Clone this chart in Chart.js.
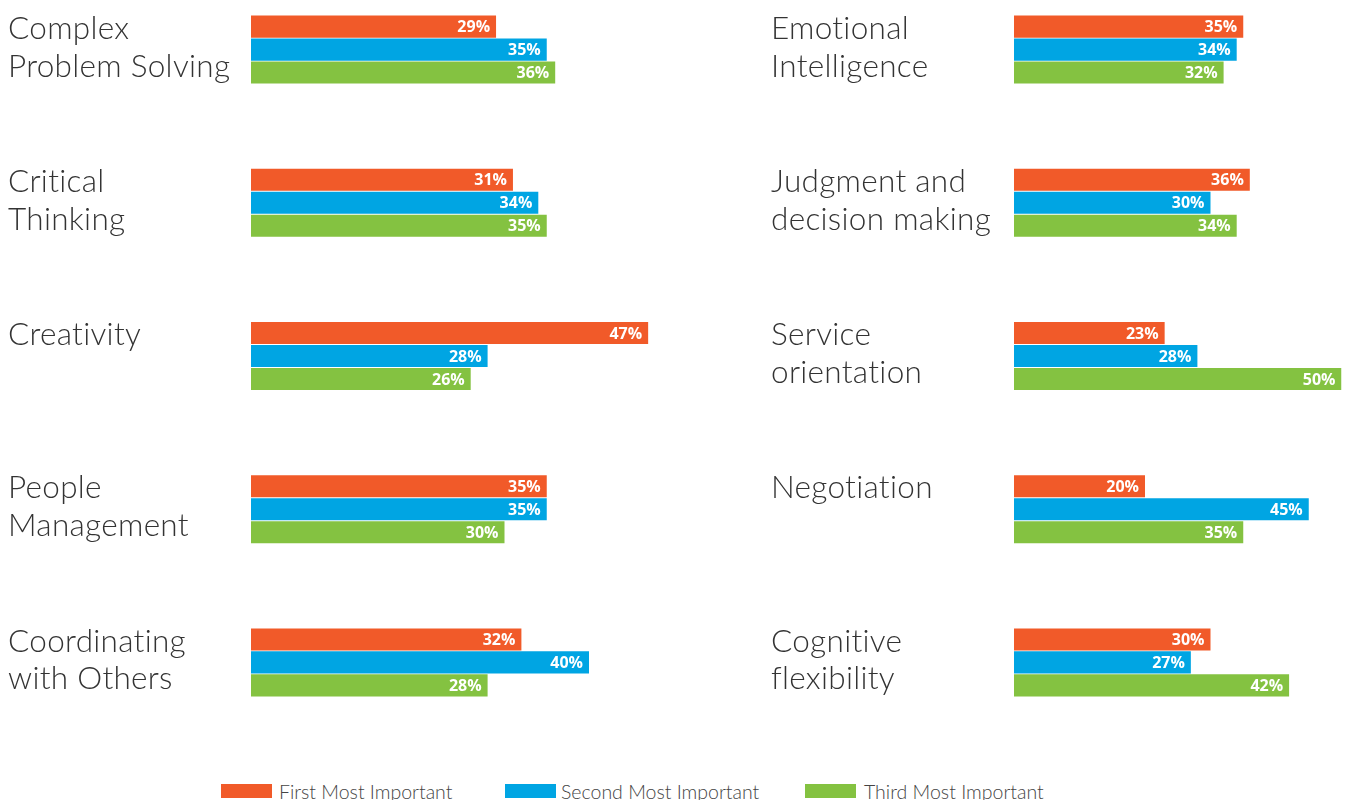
<!DOCTYPE html>
<html>
<head>
<meta charset="utf-8">
<script src="https://cdn.jsdelivr.net/npm/chart.js@4"></script>
<style>
  html, body { margin: 0; padding: 0; background: #fff; overflow: hidden; }
  body { width: 1346px; height: 800px; position: relative; }
  canvas { position: absolute; }
  #leftChart { left: 0; top: -27px; }
  #rightChart { left: 763px; top: -27px; }
  .legend { position: absolute; top: 778px; height: 26px; display: flex; align-items: center;
    font-family: Lato, 'Open Sans', sans-serif; font-weight: 300; font-size: 19.5px; color: #444; white-space: nowrap; }
  .legend span.box { display: inline-block; width: 51px; height: 14px; margin-right: 7px; }
</style>
</head>
<body>
<canvas id="leftChart" width="763" height="766"></canvas>
<canvas id="rightChart" width="583" height="766"></canvas>
<div class="legend" style="left:221px"><span class="box" style="background:#F15A29"></span>First Most Important</div>
<div class="legend" style="left:505px"><span class="box" style="background:#00A5E3;margin-right:5px"></span>Second Most Important</div>
<div class="legend" style="left:805px"><span class="box" style="background:#84C241;margin-right:8px"></span>Third Most Important</div>
<script>
// Skills, left column
const leftSkills = [
  ['Complex', 'Problem Solving'],
  ['Critical', 'Thinking'],
  ['Creativity', ''],
  ['People', 'Management'],
  ['Coordinating', 'with Others']
]
const leftFirst = [29, 31, 47, 35, 32]
const leftSecond = [35, 34, 28, 35, 40]
const leftThird = [36, 35, 26, 30, 28]

// Skills, right column
const rightSkills = [
  ['Emotional', 'Intelligence'],
  ['Judgment and', 'decision making'],
  ['Service', 'orientation'],
  ['Negotiation', ''],
  ['Cognitive', 'flexibility']
]
const rightFirst = [35, 36, 23, 20, 30]
const rightSecond = [34, 30, 28, 45, 27]
const rightThird = [32, 34, 50, 35, 42]

const seriesNames = ['First Most Important', 'Second Most Important', 'Third Most Important']
const colors = ['#F15A29', '#00A5E3', '#84C241']

// a bit of letter spacing (also stops Lato's "ti" ligature)
const spacing = {
  id: 'spacing',
  beforeDraw(chart) { chart.ctx.letterSpacing = '0.3px' }
}

// white % labels at the end of each bar
const barLabels = {
  id: 'barLabels',
  afterDatasetsDraw(chart) {
    const c = chart.ctx
    c.save()
    c.letterSpacing = '0px'
    c.font = 'bold 16px "Open Sans", Lato, sans-serif'
    c.fillStyle = '#fff'
    c.textAlign = 'right'
    c.textBaseline = 'middle'
    chart.data.datasets.forEach((ds, i) => {
      chart.getDatasetMeta(i).data.forEach((bar, j) => {
        c.fillText(ds.data[j] + '%', bar.x - 6, bar.y + 1)
      })
    })
    c.restore()
  }
}

function makeChart(id, labels, first, second, third, padRight) {
  return new Chart(document.getElementById(id), {
    type: 'bar',
    data: {
      labels: labels,
      datasets: [first, second, third].map((d, i) => ({
        label: seriesNames[i],
        data: d,
        backgroundColor: colors[i],
        categoryPercentage: 0.45,
        barPercentage: 0.96
      }))
    },
    options: {
      indexAxis: 'y',
      responsive: false,
      animation: false,
      devicePixelRatio: 1,
      layout: { padding: { left: 8, right: padRight, top: 0, bottom: 0 } },
      plugins: { legend: { display: false }, tooltip: { enabled: false } },
      scales: {
        x: { display: false, min: 0, max: 50 },
        y: {
          grid: { display: false },
          border: { display: false },
          afterFit: (scale) => {
            scale.width = 243
            scale.paddingTop = 0
            scale.paddingBottom = 0
          },
          ticks: {
            crossAlign: 'far',
            labelOffset: -2,
            color: '#333',
            font: { family: 'Lato, "Open Sans", sans-serif', weight: 300, size: 31.5, lineHeight: 1.2 }
          }
        }
      }
    },
    plugins: [spacing, barLabels]
  })
}

makeChart('leftChart', leftSkills, leftFirst, leftSecond, leftThird, 89.5)
makeChart('rightChart', rightSkills, rightFirst, rightSecond, rightThird, 4.5)
</script>
</body>
</html>
